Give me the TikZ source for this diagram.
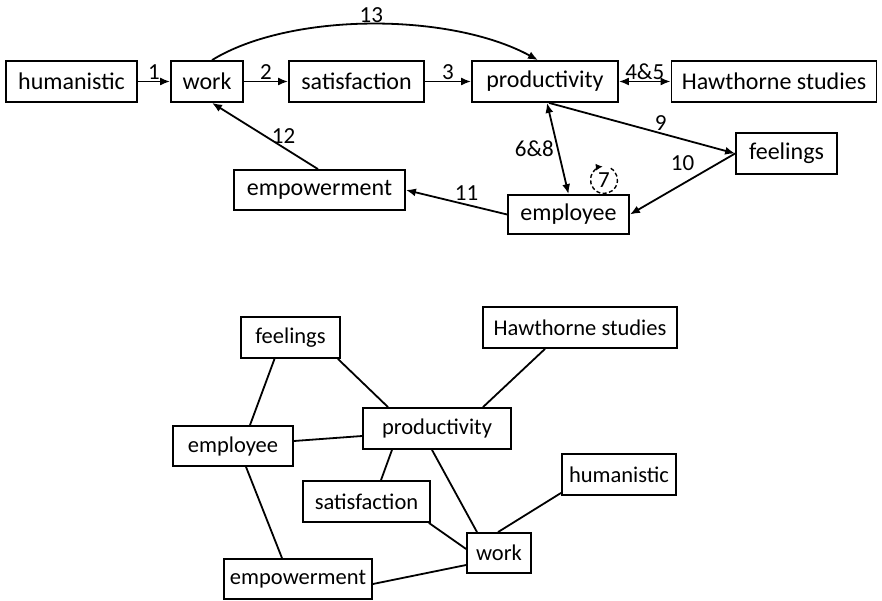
\documentclass[tikz,border=0pt]{standalone}
\usepackage{fontspec}
\setmainfont{Carlito}
\usetikzlibrary{arrows.meta}

\begin{document}
\begin{tikzpicture}[x=1pt, y=1pt,
  box/.style={draw, line width=1.8pt, minimum height=41pt, inner sep=2pt, font=\fontsize{24}{28}\selectfont},
  sbox/.style={box, font=\fontsize{22.5}{26}\selectfont},
  arr/.style={->, line width=1.8pt},
  ln/.style={line width=1.8pt},
  lbl/.style={inner sep=1pt, font=\fontsize{23}{27}\selectfont},
  >={Latex[length=10pt, width=8pt]}
]
\useasboundingbox (0,0) rectangle (882,-601);
\node[box, minimum width=131pt] (humanistic) at (71.5,-81.5) {humanistic};
\node[box, minimum width=72pt] (work) at (207,-81.5) {work};
\node[box, minimum width=135pt] (satisfaction) at (356.5,-81.5) {satisfaction};
\node[box, minimum width=146pt] (productivity) at (545,-81.5) {productivity};
\node[box, minimum width=205pt] (hawthorne) at (774,-81.5) {Hawthorne studies};
\node[box, minimum width=101pt] (feelings) at (786.5,-153.5) {feelings};
\node[box, minimum width=121pt, minimum height=39pt] (employee) at (568.5,-214.5) {employee};
\node[box, minimum width=171pt, minimum height=40pt] (empowerment) at (319.5,-190) {empowerment};
\draw[arr] (humanistic) -- node[lbl, above] {1} (work);
\draw[arr] (work) -- node[lbl, above] {2} (satisfaction);
\draw[arr] (satisfaction) -- node[lbl, above] {3} (productivity);
\draw[arr, <->] (productivity) -- node[lbl, above] {4\&5} (hawthorne);
\draw[arr] ([xshift=5pt]work.north) .. controls +(78,48) and +(-88,48) .. node[lbl, above] {13} ([xshift=-7pt]productivity.north);
\draw[arr] ([xshift=-1.5pt]empowerment.north) -- node[lbl, right=5pt] {12} ([xshift=5pt]work.south);
\draw[arr, <->] ([xshift=2pt]productivity.south) -- node[lbl, left=2pt] {6\&8} (employee.north);
\draw[arr] ([xshift=4pt]productivity.south) -- node[lbl, pos=0.6, above=1pt] {9} (feelings.west);
\draw[arr] (feelings.west) -- node[lbl, pos=0.5, above=11pt] {10} (employee.east);
\draw[arr] (employee.west) -- node[lbl, pos=0.4, above=2pt] {11} (empowerment.east);
\node[lbl] (seven) at (604,-180) {7};
\draw[line width=1.4pt, dash pattern=on 4pt off 2.5pt, -{Latex[length=7pt, width=7pt]}] (seven.center) ++(60:13.5) arc[start angle=60, end angle=-265, radius=13.5];

\node[sbox, minimum width=99pt] (feelings2) at (290.5,-337.5) {feelings};
\node[sbox, minimum width=194pt] (hawthorne2) at (580,-327.5) {Hawthorne studies};
\node[sbox, minimum width=148pt] (productivity2) at (437,-428.5) {productivity};
\node[sbox, minimum width=120pt, minimum height=40pt] (employee2) at (233,-446) {employee};
\node[sbox, minimum width=127pt] (satisfaction2) at (366.5,-501.5) {satisfaction};
\node[sbox, minimum width=114pt] (humanistic2) at (619,-474.5) {humanistic};
\node[sbox, minimum width=64pt, minimum height=40pt] (work2) at (499,-553) {work};
\node[sbox, minimum width=148pt, minimum height=40pt] (empowerment2) at (298,-579) {empowerment};
\draw[ln] ([xshift=-16pt]feelings2.south) -- ([xshift=17pt]employee2.north);
\draw[ln] ([xshift=-3pt]feelings2.south east) -- ([xshift=-49pt]productivity2.north);
\draw[ln] ([xshift=-35pt]hawthorne2.south) -- ([xshift=46pt]productivity2.north);
\draw[ln] ([yshift=5pt]employee2.east) -- ([yshift=-7.5pt]productivity2.west);
\draw[ln] ([xshift=-45pt]productivity2.south) -- ([xshift=14.5pt]satisfaction2.north);
\draw[ln] ([xshift=-5pt]productivity2.south) -- ([xshift=-22pt]work2.north);
\draw[ln] ([yshift=3pt]humanistic2.south west) -- ([xshift=-1pt]work2.north);
\draw[ln] ([xshift=-2pt]satisfaction2.south east) -- ([yshift=4pt]work2.west);
\draw[ln] ([xshift=13pt]employee2.south) -- ([xshift=-16pt]empowerment2.north);
\draw[ln] ([yshift=-5pt]empowerment2.east) -- ([yshift=-12pt]work2.west);
\end{tikzpicture}
\end{document}
